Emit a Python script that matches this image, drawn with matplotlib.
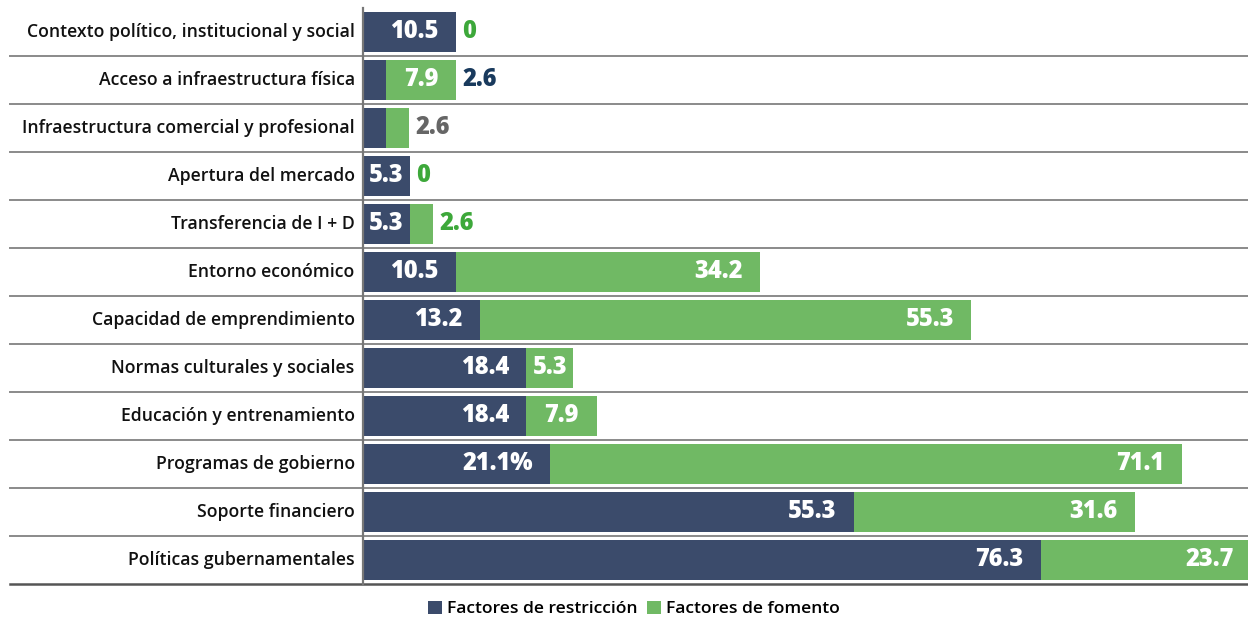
"""
Factores de restricción vs. factores de fomento por área temática
Barras horizontales apiladas con etiquetas de valor
"""

import matplotlib
matplotlib.use('Agg')
import matplotlib.pyplot as plt
import matplotlib.transforms as mtransforms
from matplotlib.patches import Patch
import numpy as np

matplotlib.rcParams['font.family'] = ['Open Sans', 'DejaVu Sans']

# --- datos ---
categorias = [
    'Contexto político, institucional y social',
    'Acceso a infraestructura física',
    'Infraestructura comercial y profesional',
    'Apertura del mercado',
    'Transferencia de I + D',
    'Entorno económico',
    'Capacidad de emprendimiento',
    'Normas culturales y sociales',
    'Educación y entrenamiento',
    'Programas de gobierno',
    'Soporte financiero',
    'Políticas gubernamentales',
]
restriccion = [10.5, 2.6, 2.6, 5.3, 5.3, 10.5, 13.2, 18.4, 18.4, 21.1, 55.3, 76.3]
fomento = [0, 7.9, 2.6, 0, 2.6, 34.2, 55.3, 5.3, 7.9, 71.1, 31.6, 23.7]
etiquetas_restriccion = ['10.5', '2.6', '2.6', '5.3', '5.3', '10.5', '13.2',
                         '18.4', '18.4', '21.1%', '55.3', '76.3']
etiquetas_fomento = ['0', '7.9', '2.6', '0', '2.6', '34.2', '55.3',
                     '5.3', '7.9', '71.1', '31.6', '23.7']
series_nombres = ['Factores de restricción', 'Factores de fomento']

# colores
COLOR_RESTR = '#3b4b6b'
COLOR_FOMENTO = '#70b964'
COLOR_RESTR_TXT = '#193a5d'
COLOR_FOMENTO_TXT = '#3da83a'
COLOR_AMBOS_TXT = '#666666'
COLOR_LINEA = '#8a8a8a'

W, H, DPI = 12.48, 6.18, 100
fig = plt.figure(figsize=(W, H), dpi=DPI)

# eje de barras: x=363px .. ~1253px, y=8px .. 584px
left_px, right_px, top_px, bottom_px = 363, 1251, 8, 584
ax = fig.add_axes([left_px / 1248, 1 - bottom_px / 618,
                   (right_px - left_px) / 1248, (bottom_px - top_px) / 618])

n = len(categorias)
y = np.arange(n)
alto = 0.83

ax.barh(y, restriccion, height=alto, color=COLOR_RESTR, zorder=3)
ax.barh(y, fomento, left=restriccion, height=alto, color=COLOR_FOMENTO, zorder=3)

ax.set_xlim(0, 100)
ax.set_ylim(n - 0.5, -0.5)
ax.axis('off')

# línea vertical del eje
ax.plot([0, 0], [-0.5, n - 0.5], color='#777777', linewidth=1.6,
        clip_on=False, zorder=4)

# separadores horizontales que cruzan la zona de etiquetas
trans = mtransforms.blended_transform_factory(fig.transFigure, ax.transData)
for k in range(1, n + 1):
    lw = 1.4 if k < n else 1.8
    col = COLOR_LINEA if k < n else '#555555'
    ax.plot([10 / 1248, 1.0], [k - 0.5, k - 0.5], color=col, linewidth=lw,
            transform=trans, clip_on=False, zorder=2)

# etiquetas de categoría
for i, cat in enumerate(categorias):
    ax.annotate(cat, xy=(0, i), xytext=(-6, 0), textcoords='offset points',
                ha='right', va='center', fontsize=12.7, fontweight='semibold',
                color='#111111', annotation_clip=False)

UMBRAL = 5   # por debajo, el valor va fuera de la barra
CENTRO = 9   # barras estrechas: texto centrado
num_kw = dict(fontsize=17, fontweight='heavy', va='center',
              annotation_clip=False, zorder=5)


def etiqueta_dentro(inicio, valor, texto, fila):
    fin = inicio + valor
    if valor < CENTRO:
        ax.annotate(texto, xy=(inicio + valor / 2, fila), ha='center',
                    color='white', **num_kw)
    else:
        ax.annotate(texto, xy=(fin, fila), xytext=(-12.5, 0),
                    textcoords='offset points', ha='right', color='white',
                    **num_kw)


for i in range(n):
    r, f = restriccion[i], fomento[i]
    fin = r + f
    fuera = []
    if r >= UMBRAL:
        etiqueta_dentro(0, r, etiquetas_restriccion[i], i)
    else:
        fuera.append((etiquetas_restriccion[i], COLOR_RESTR_TXT))
    if f >= UMBRAL:
        etiqueta_dentro(r, f, etiquetas_fomento[i], i)
    else:
        fuera.append((etiquetas_fomento[i], COLOR_FOMENTO_TXT))
    if len(fuera) == 2:
        # ambos valores coinciden: se muestra una sola etiqueta
        fuera = [(fuera[0][0], COLOR_AMBOS_TXT)]
    for texto, color in fuera:
        ax.annotate(texto, xy=(fin, i), xytext=(4.5, 0),
                    textcoords='offset points', ha='left', color=color,
                    **num_kw)

# leyenda
handles = [Patch(facecolor=COLOR_RESTR, edgecolor='none'),
           Patch(facecolor=COLOR_FOMENTO, edgecolor='none')]
fig.legend(handles, series_nombres, loc='center',
           bbox_to_anchor=(634 / 1248, 1 - 609 / 618), ncol=2, frameon=False,
           handlelength=0.8, handleheight=0.8, handletextpad=0.3,
           columnspacing=0.5, borderpad=0,
           prop={'size': 12.6, 'weight': 'semibold'})

fig.savefig('out.png', dpi=DPI)
plt.close(fig)
